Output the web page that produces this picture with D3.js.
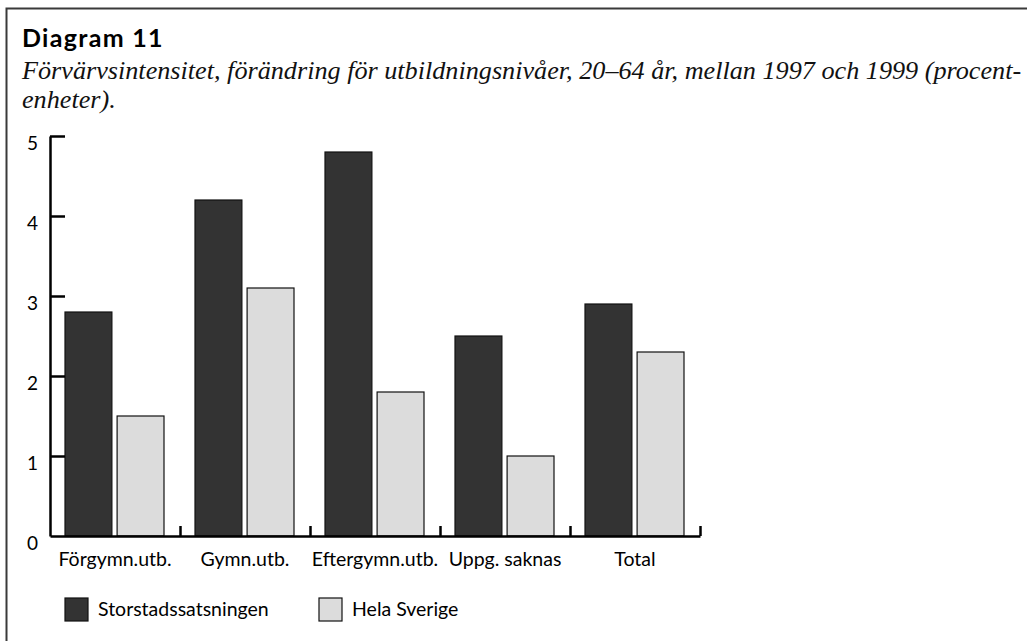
<!DOCTYPE html>
<html>
<head>
<meta charset="utf-8">
<script src="https://cdn.jsdelivr.net/npm/d3@7"></script>
<style>
  body { margin: 0; background: #fff; }
  svg { display: block; }
</style>
</head>
<body>
<div id="chart"></div>
<script>
const categories = ["Förgymn.utb.", "Gymn.utb.", "Eftergymn.utb.", "Uppg. saknas", "Total"];
const seriesNames = ["Storstadssatsningen", "Hela Sverige"];
const storstad = [2.8, 4.2, 4.8, 2.5, 2.9];
const helaSverige = [1.5, 3.1, 1.8, 1.0, 2.3];
const yTicks = [0, 1, 2, 3, 4, 5];
const colors = ["#333333", "#dcdcdc"];

const width = 1027, height = 641;
const sans = "Lato, 'DejaVu Sans', sans-serif";

const svg = d3.select("#chart")
    .append("svg")
    .attr("width", width)
    .attr("height", height);

// frame: top and left rules only
svg.append("path")
    .attr("d", "M6.5,641 V8.5 H1027")
    .attr("fill", "none")
    .attr("stroke", "#3a3a3a")
    .attr("stroke-width", 2);

svg.append("text")
    .attr("x", 22).attr("y", 47)
    .attr("font-family", sans)
    .attr("font-weight", "bold")
    .attr("font-size", 25)
    .attr("letter-spacing", 1.3)
    .text("Diagram 11");

const sub = svg.append("text")
    .attr("font-family", "'Liberation Serif', serif")
    .attr("font-style", "italic")
    .attr("font-size", 26.2)
    .attr("fill", "#111");
sub.append("tspan").attr("x", 22).attr("y", 79)
    .text("Förvärvsintensitet, förändring för utbildningsnivåer, 20–64 år, mellan 1997 och 1999 (procent-");
sub.append("tspan").attr("x", 22).attr("y", 108)
    .text("enheter).");

// scales
const x0 = d3.scaleBand().domain(categories).range([50, 700]);
const x1 = d3.scaleBand().domain(seriesNames).range([15, 114]).paddingInner(0.1);
const y = d3.scaleLinear().domain([0, 5]).range([536, 136]);

const rows = categories.map((c, i) => ({ cat: c, values: [storstad[i], helaSverige[i]] }));

const groups = svg.append("g")
    .selectAll("g")
    .data(rows)
    .enter()
    .append("g")
    .attr("transform", d => `translate(${x0(d.cat)},0)`);

groups.selectAll("rect")
    .data(d => d.values.map((v, j) => ({ name: seriesNames[j], v: v, j: j })))
    .enter()
    .append("rect")
    .attr("x", d => x1(d.name))
    .attr("y", d => y(d.v))
    .attr("width", x1.bandwidth())
    .attr("height", d => y(0) - y(d.v))
    .attr("fill", d => colors[d.j])
    .attr("stroke", "#111")
    .attr("stroke-width", 1.2);

// y axis, ticks pointing inward
const yAxis = svg.append("g")
    .attr("transform", "translate(50,0)")
    .call(d3.axisLeft(y).tickValues(yTicks).tickSize(-15).tickSizeOuter(0).tickPadding(12).tickFormat(d3.format("d")));
yAxis.selectAll("line").attr("stroke", "#000").attr("stroke-width", 2.5);
yAxis.select(".domain").attr("stroke", "#000").attr("stroke-width", 2.5);
yAxis.selectAll("text")
    .attr("font-family", sans)
    .attr("font-size", 19)
    .attr("fill", "#000")
    .attr("dy", "0.72em");
yAxis.selectAll(".tick").filter(d => d === 0).select("line").remove();

// x axis: separator ticks between groups
const xi = d3.scaleLinear().domain([0, categories.length]).range([50, 700]);
const xAxis = svg.append("g")
    .attr("transform", "translate(0,536)")
    .call(d3.axisBottom(xi).tickValues(d3.range(1, categories.length + 1)).tickSize(-10).tickSizeOuter(0).tickFormat(""));
xAxis.selectAll("line").attr("stroke", "#000").attr("stroke-width", 2.5);
xAxis.select(".domain").attr("stroke", "#000").attr("stroke-width", 2.5);

// category labels
const xLab = svg.append("g")
    .attr("transform", "translate(0,536)")
    .call(d3.axisBottom(x0).tickSize(0).tickPadding(16));
xLab.select(".domain").remove();
xLab.selectAll("text")
    .attr("font-family", sans)
    .attr("font-size", 19.5)
    .attr("fill", "#000");

// legend
const legend = svg.append("g")
    .selectAll("g")
    .data(seriesNames)
    .enter()
    .append("g")
    .attr("transform", (d, i) => `translate(${65 + i * 254},598)`);
legend.append("rect")
    .attr("width", 23).attr("height", 23)
    .attr("fill", (d, i) => colors[i])
    .attr("stroke", "#111")
    .attr("stroke-width", 1.2);
legend.append("text")
    .attr("x", 33).attr("y", 18)
    .attr("font-family", sans)
    .attr("font-size", 19.5)
    .text(d => d);
</script>
</body>
</html>
